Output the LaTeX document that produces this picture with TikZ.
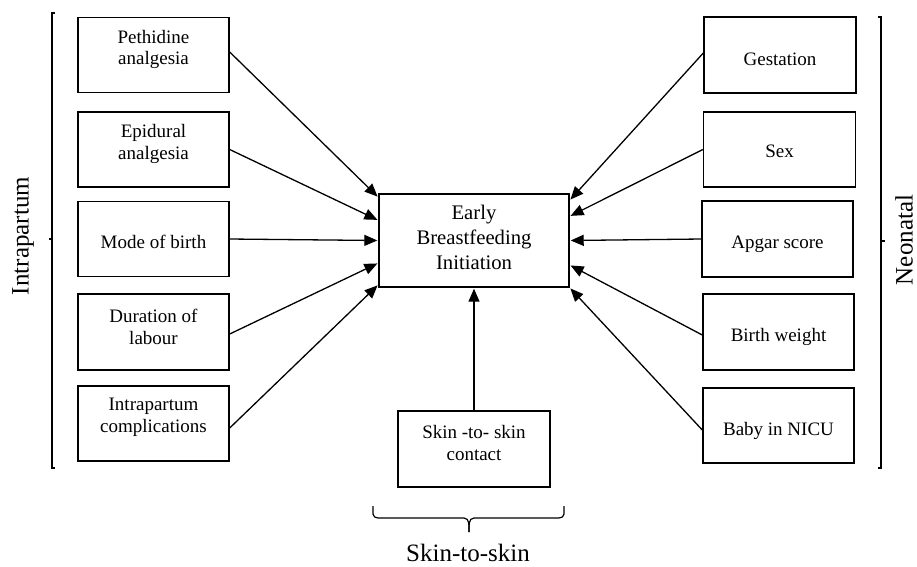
\documentclass[tikz,border=0pt]{standalone}
\usepackage{fontspec}
\setmainfont{Liberation Serif}
\usetikzlibrary{arrows.meta}
\begin{document}
\begin{tikzpicture}[x=1pt,y=-1pt,
  box/.style={draw, line width=1.4pt, inner sep=0pt},
  txt/.style={align=center, inner sep=0pt, font=\fontsize{19}{21.5}\selectfont},
  one/.style={txt, anchor=base},
  arr/.style={line width=1.3pt, shorten >=1pt, -{Triangle[length=13pt,width=11pt]}},
  brk/.style={line width=1.2pt},
  lab/.style={inner sep=0pt, font=\fontsize{25}{28}\selectfont}]
\useasboundingbox (0,0) rectangle (917,566);
% left boxes
\node[box, minimum width=151pt, minimum height=75pt] (p1) at (153.5,55) {};
\node[box, minimum width=151pt, minimum height=75pt] (p2) at (153.5,149.5) {};
\node[box, minimum width=151pt, minimum height=75pt] (p3) at (153.5,239) {};
\node[box, minimum width=151pt, minimum height=76pt] (p4) at (153.5,332) {};
\node[box, minimum width=151pt, minimum height=75pt] (p5) at (153.5,423.5) {};
\node[txt] (p1t) at ([yshift=5.5pt]p1.center) {Pethidine\\analgesia};
\node[txt] (p2t) at ([yshift=5.5pt]p2.center) {Epidural\\analgesia};
\node[one] (p3t) at ([yshift=-9.5pt]p3.center) {Mode of birth};
\node[txt] (p4t) at ([yshift=5pt]p4.center) {Duration of\\labour};
\node[txt] (p5t) at ([yshift=6pt]p5.center) {Intrapartum\\complications};
% right boxes
\node[box, minimum width=152pt, minimum height=76pt] (n1) at (780,55) {};
\node[box, minimum width=152pt, minimum height=75pt] (n2) at (779.5,149.5) {};
\node[box, minimum width=151pt, minimum height=76pt] (n3) at (777.5,239) {};
\node[box, minimum width=151pt, minimum height=76pt] (n4) at (778.5,332) {};
\node[box, minimum width=151pt, minimum height=75pt] (n5) at (778.5,425.5) {};
\node[one] (n1t) at ([yshift=-10pt]n1.center) {Gestation};
\node[one] (n2t) at ([yshift=-8pt]n2.center) {Sex};
\node[one] (n3t) at ([yshift=-9.5pt]n3.center) {Apgar score};
\node[one] (n4t) at ([yshift=-9.5pt]n4.center) {Birth weight};
\node[one] (n5t) at ([yshift=-9.5pt]n5.center) {Baby in NICU};
% centre
\node[box, minimum width=190pt, minimum height=93pt] (c) at (474,240.5) {};
\node[txt, font=\fontsize{20.7}{25}\selectfont] (ct) at ([yshift=3.5pt]c.center) {Early\\Breastfeeding\\Initiation};
\node[box, minimum width=152pt, minimum height=76pt] (s) at (474,449) {};
\node[txt] (st) at ([yshift=6pt]s.center) {Skin -to- skin\\contact};
% arrows
\draw[arr] ([yshift=3pt]p1.east) -- ([yshift=-4pt]c.north west);
\draw[arr] (p2.east) -- ([yshift=-27pt]c.north west);
\draw[arr] (p3.east) -- (c.west);
\draw[arr] ([yshift=-2pt]p4.east) -- ([yshift=-22.5pt]c.west);
\draw[arr] ([yshift=-4.5pt]p5.east) -- ([yshift=3pt]c.south west);
\draw[arr] ([yshift=2pt]n1.west) -- ([yshift=-7pt]c.north east);
\draw[arr] (n2.west) -- ([yshift=-23pt]c.north east);
\draw[arr] (n3.west) -- (c.east);
\draw[arr] ([yshift=-3pt]n4.west) -- ([yshift=-24.5pt]c.east);
\draw[arr] ([yshift=-4.5pt]n5.west) -- (c.south east);
\draw[arr] (s.north) -- (c.south);
% brackets
\coordinate (lt) at (55,13);
\coordinate (lb) at (55,468);
\draw[brk] (lt) -- (52,13) -- (52,468) -- (lb);
\draw[brk] (52,239) -- (48.5,239);
\node[lab, rotate=90] (intra) at (23,236) {Intrapartum};
\coordinate (rt) at (877.5,17);
\coordinate (rb) at (877.5,468);
\draw[brk] (rt) -- (881,17) -- (881,468) -- (rb);
\draw[brk] (881,241) -- (884.5,241);
\node[lab, rotate=90] (neo) at (904,240) {Neonatal};
% bottom brace
\coordinate (bl) at (373,506);
\coordinate (br) at (564,506);
\coordinate (bt) at (469,532);
\draw[brk] (bl) -- (373,514) to[out=-90,in=180] (378,518) -- (464,518) to[out=0,in=90] (bt);
\draw[brk] (br) -- (564,514) to[out=-90,in=0] (559,518) -- (474,518) to[out=180,in=90] (bt);
\node[lab, anchor=base] (sk) at (468,561) {Skin-to-skin};
\end{tikzpicture}
\end{document}
